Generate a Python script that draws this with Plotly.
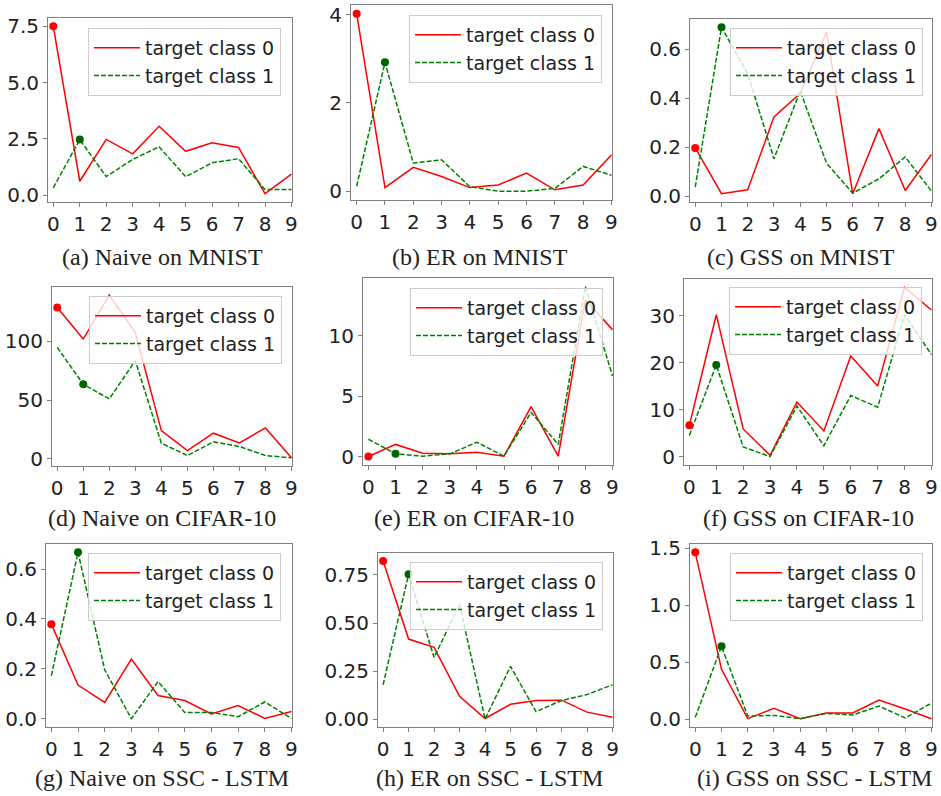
import plotly.graph_objects as go

# ---------------- data ----------------
classes = [0, 1, 2, 3, 4, 5, 6, 7, 8, 9]
x_tick_labels = ["0", "1", "2", "3", "4", "5", "6", "7", "8", "9"]
series_names = ["target class 0", "target class 1"]

naive_mnist_c0 = [7.50, 0.62, 2.48, 1.84, 3.06, 1.95, 2.33, 2.12, 0.07, 0.94]
naive_mnist_c1 = [0.33, 2.47, 0.83, 1.59, 2.15, 0.82, 1.44, 1.62, 0.25, 0.25]
er_mnist_c0 = [4.02, 0.08, 0.54, 0.33, 0.08, 0.14, 0.41, 0.03, 0.14, 0.82]
er_mnist_c1 = [0.11, 2.92, 0.64, 0.71, 0.10, 0.00, 0.00, 0.06, 0.56, 0.36]
gss_mnist_c0 = [0.197, 0.010, 0.026, 0.324, 0.420, 0.670, 0.010, 0.276, 0.023, 0.170]
gss_mnist_c1 = [0.037, 0.690, 0.500, 0.153, 0.430, 0.135, 0.012, 0.071, 0.160, 0.020]
naive_cifar_c0 = [128.9, 102.0, 139.4, 107.6, 24.0, 7.0, 21.8, 13.6, 26.3, 0.8]
naive_cifar_c1 = [94.9, 63.5, 51.0, 83.6, 13.3, 2.8, 14.4, 10.5, 2.8, 0.8]
er_cifar_c0 = [0.00, 1.00, 0.27, 0.22, 0.36, 0.03, 4.12, 0.03, 12.97, 10.50]
er_cifar_c1 = [1.43, 0.22, 0.03, 0.22, 1.18, 0.03, 3.65, 1.00, 14.07, 6.68]
gss_cifar_c0 = [6.65, 30.2, 5.87, 0.28, 11.6, 5.45, 21.4, 15.0, 36.0, 31.2]
gss_cifar_c1 = [4.5, 19.5, 2.05, 0.0, 10.75, 2.3, 13.0, 10.5, 30.2, 21.7]
naive_ssc_c0 = [0.379, 0.135, 0.065, 0.239, 0.093, 0.073, 0.019, 0.053, 0.001, 0.029]
naive_ssc_c1 = [0.172, 0.667, 0.196, 0.000, 0.149, 0.025, 0.025, 0.008, 0.067, 0.001]
er_ssc_c0 = [0.822, 0.417, 0.374, 0.120, 0.005, 0.079, 0.098, 0.100, 0.038, 0.012]
er_ssc_c1 = [0.180, 0.753, 0.321, 0.597, 0.002, 0.275, 0.041, 0.098, 0.129, 0.180]
gss_ssc_c0 = [1.465, 0.437, 0.003, 0.094, 0.003, 0.053, 0.053, 0.167, 0.088, 0.003]
gss_ssc_c1 = [0.015, 0.639, 0.026, 0.032, 0.003, 0.050, 0.035, 0.114, 0.009, 0.140]

captions = [
    "(a) Naive on MNIST", "(b) ER on MNIST", "(c) GSS on MNIST",
    "(d) Naive on CIFAR-10", "(e) ER on CIFAR-10", "(f) GSS on CIFAR-10",
    "(g) Naive on SSC - LSTM", "(h) ER on SSC - LSTM", "(i) GSS on SSC - LSTM",
]

y_tick_vals = [
    [0, 2.5, 5, 7.5], [0, 2, 4], [0, 0.2, 0.4, 0.6],
    [0, 50, 100], [0, 5, 10], [0, 10, 20, 30],
    [0, 0.2, 0.4, 0.6], [0, 0.25, 0.5, 0.75], [0, 0.5, 1.0, 1.5],
]
y_tick_text = [
    ["0.0", "2.5", "5.0", "7.5"], ["0", "2", "4"], ["0.0", "0.2", "0.4", "0.6"],
    ["0", "50", "100"], ["0", "5", "10"], ["0", "10", "20", "30"],
    ["0.0", "0.2", "0.4", "0.6"], ["0.00", "0.25", "0.50", "0.75"], ["0.0", "0.5", "1.0", "1.5"],
]

panels = [
    (naive_mnist_c0, naive_mnist_c1), (er_mnist_c0, er_mnist_c1), (gss_mnist_c0, gss_mnist_c1),
    (naive_cifar_c0, naive_cifar_c1), (er_cifar_c0, er_cifar_c1), (gss_cifar_c0, gss_cifar_c1),
    (naive_ssc_c0, naive_ssc_c1), (er_ssc_c0, er_ssc_c1), (gss_ssc_c0, gss_ssc_c1),
]

# ---------------- layout geometry (pixels) ----------------
W, H = 941, 796
# left, right, top, bottom of each plot area
rects = [
    (48, 292, 18, 202), (351, 612, 5, 200), (690, 932, 19, 202),
    (52, 292, 287, 466), (363, 613, 278, 465), (684, 932, 279, 465),
    (46, 292, 544, 727), (378, 613, 553, 727), (690, 932, 544, 727),
]
# legend box right, top
legend_pos = [
    (281, 28), (602, 15), (923, 28),
    (282, 296), (603, 288), (922, 287),
    (281, 553), (603, 562), (923, 553),
]
caption_pos = [
    (162, 257), (480, 257), (801, 257),
    (162, 518), (474, 518), (808, 518),
    (162, 778), (489, 778), (814, 778),
]

RED = "#ff0000"
GREEN = "#008000"
DARKGREEN = "#006400"
SPINE = "#808080"
TICKFONT = dict(family="DejaVu Sans", size=20, color="#222222")

fig = go.Figure()
layout = {}
annotations = []

for i, (c0, c1) in enumerate(panels):
    n = i + 1
    xa = "x" if n == 1 else f"x{n}"
    ya = "y" if n == 1 else f"y{n}"
    lg = "legend" if n == 1 else f"legend{n}"

    fig.add_trace(go.Scatter(x=classes, y=c0, mode="lines", name=series_names[0],
                             line=dict(color=RED, width=1.5),
                             xaxis=xa, yaxis=ya, legend=lg))
    fig.add_trace(go.Scatter(x=classes, y=c1, mode="lines", name=series_names[1],
                             line=dict(color=GREEN, width=1.5, dash="5px,2px"),
                             xaxis=xa, yaxis=ya, legend=lg))
    fig.add_trace(go.Scatter(x=[classes[0]], y=[c0[0]], mode="markers", showlegend=False,
                             marker=dict(color=RED, size=8), cliponaxis=False,
                             xaxis=xa, yaxis=ya))
    fig.add_trace(go.Scatter(x=[classes[1]], y=[c1[1]], mode="markers", showlegend=False,
                             marker=dict(color=DARKGREEN, size=8), cliponaxis=False,
                             xaxis=xa, yaxis=ya))

    l, r, t, b = rects[i]
    lo = min(min(c0), min(c1))
    hi = max(max(c0), max(c1))
    pad = 0.05 * (hi - lo)

    xkey = "xaxis" if n == 1 else f"xaxis{n}"
    ykey = "yaxis" if n == 1 else f"yaxis{n}"
    layout[xkey] = dict(
        domain=[l / W, r / W], anchor=ya, range=[-0.2, 9.02],
        tickvals=classes, ticktext=x_tick_labels,
        showline=True, mirror=True, linecolor=SPINE, linewidth=1,
        ticks="outside", ticklen=4, tickcolor=SPINE, tickwidth=1,
        showgrid=False, zeroline=False, tickfont=TICKFONT, fixedrange=True,
        automargin=False,
    )
    layout[ykey] = dict(
        domain=[1 - b / H, 1 - t / H], anchor=xa, range=[lo - pad, hi + pad],
        tickvals=y_tick_vals[i], ticktext=y_tick_text[i],
        showline=True, mirror=True, linecolor=SPINE, linewidth=1,
        ticks="outside", ticklen=4, tickcolor=SPINE, tickwidth=1,
        showgrid=False, zeroline=False, tickfont=TICKFONT, fixedrange=True,
        automargin=False,
    )
    lx, ly = legend_pos[i]
    layout[lg] = dict(
        x=lx / W, y=1 - ly / H, xanchor="right", yanchor="top",
        xref="paper", yref="paper",
        bgcolor="rgba(255,255,255,0.8)", bordercolor="#cccccc", borderwidth=1,
        font=dict(family="DejaVu Sans", size=19, color="#222222"),
        itemwidth=46, tracegroupgap=0,
    )
    cx, cy = caption_pos[i]
    annotations.append(dict(
        x=cx / W, y=1 - cy / H, xref="paper", yref="paper",
        text=captions[i], showarrow=False, xanchor="center", yanchor="middle",
        font=dict(family="Liberation Serif", size=24, color="#222222"),
    ))

fig.update_layout(
    width=W, height=H,
    margin=dict(l=0, r=0, t=0, b=0, autoexpand=False),
    paper_bgcolor="white", plot_bgcolor="white",
    annotations=annotations,
    **layout,
)

fig.write_html(
    "out.html",
    config={"displayModeBar": False},
    post_script="document.body.style.margin='0';document.body.style.overflow='hidden';",
)
